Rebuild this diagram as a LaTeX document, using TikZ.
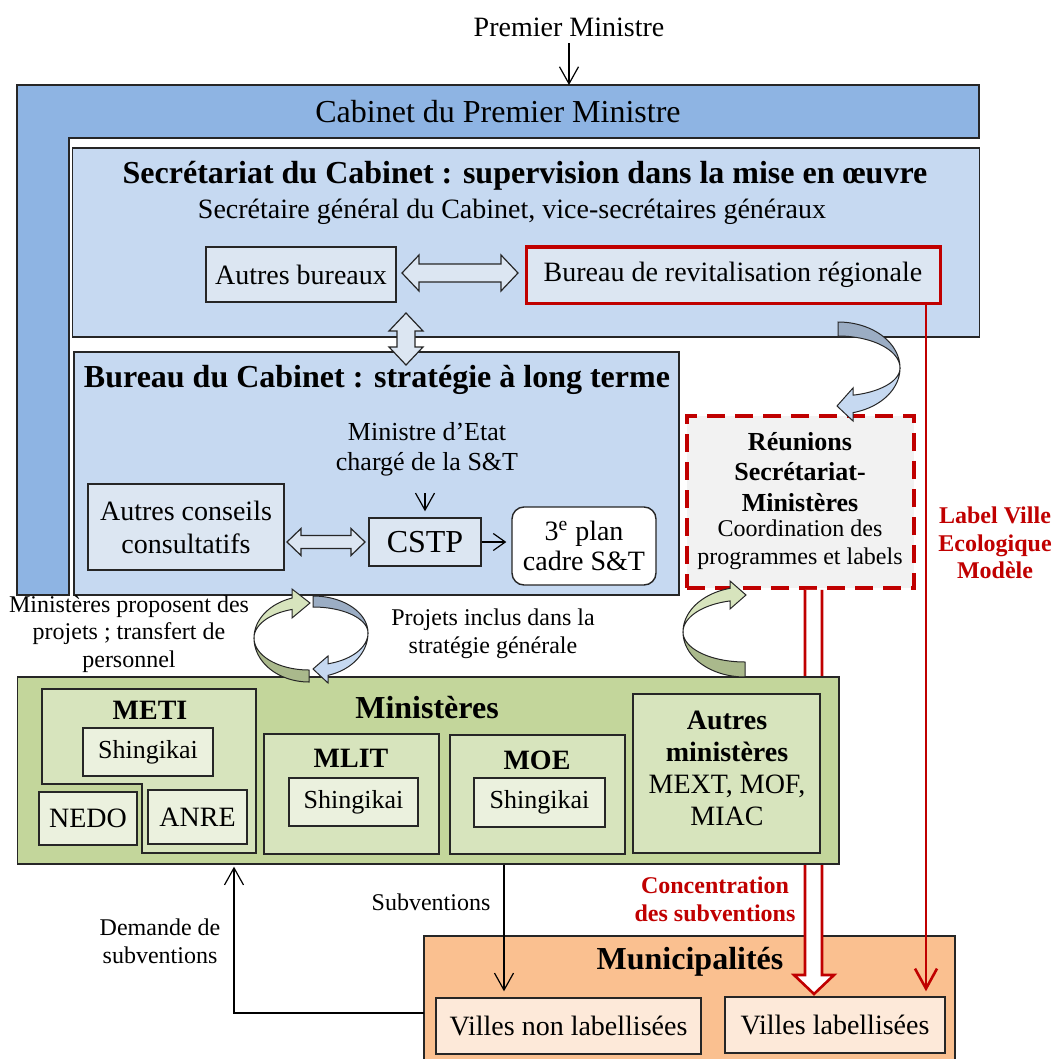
\documentclass[tikz,border=0pt]{standalone}
\usepackage{fontspec}
\setmainfont{Liberation Serif}
\usetikzlibrary{arrows.meta,calc}
\definecolor{cabblue}{HTML}{8EB4E3}
\definecolor{secblue}{HTML}{C6D9F1}
\definecolor{boxblue}{HTML}{DCE6F2}
\definecolor{ribblue}{HTML}{9BADC4}
\definecolor{mingreen}{HTML}{C3D69B}
\definecolor{metigreen}{HTML}{D7E4BD}
\definecolor{shingreen}{HTML}{EBF1DE}
\definecolor{ribgreen}{HTML}{AAB98C}
\definecolor{muniorange}{HTML}{FAC090}
\definecolor{villeorange}{HTML}{FDE9D9}
\definecolor{darkred}{HTML}{C00000}
\definecolor{reungray}{HTML}{F2F2F2}
\definecolor{edgec}{HTML}{262626}
\newcommand{\fszA}{\fontsize{12}{13.8}\selectfont}
\newcommand{\fszB}{\fontsize{13}{15.2}\selectfont}
\newcommand{\fszC}{\fontsize{14}{16}\selectfont}
\newcommand{\fszD}{\fontsize{16}{18}\selectfont}
\tikzset{
  box/.style={draw=edgec, line width=0.7pt, inner sep=0pt, align=center},
  blk/.style={draw=black, line width=0.6pt, -{Straight Barb[length=8.5pt,width=9.5pt]}},
  redarr/.style={draw=darkred, line width=1.3pt, -{Straight Barb[length=10pt,width=11pt]}},
  dblarr/.style={fill=boxblue, draw=edgec, line width=0.6pt},
  ribdarkB/.style={fill=ribblue, draw=edgec, line width=0.5pt},
  ribliteB/.style={fill=secblue, draw=edgec, line width=0.5pt},
  ribdarkG/.style={fill=ribgreen, draw=edgec, line width=0.5pt},
  ribliteG/.style={fill=metigreen, draw=edgec, line width=0.5pt},
  lbl/.style={align=center, font=\fszA},
}
\newcommand{\hdbl}[6]{\filldraw[dblarr] (#1,#3) -- ({#1+#6},{#3-#5}) -- ({#1+#6},{#3-#4}) -- ({#2-#6},{#3-#4}) -- ({#2-#6},{#3-#5}) -- (#2,#3) -- ({#2-#6},{#3+#5}) -- ({#2-#6},{#3+#4}) -- ({#1+#6},{#3+#4}) -- ({#1+#6},{#3+#5}) -- cycle;}
\newcommand{\vdbl}[6]{\filldraw[dblarr] (#3,#1) -- ({#3-#5},{#1+#6}) -- ({#3-#4},{#1+#6}) -- ({#3-#4},{#2-#6}) -- ({#3-#5},{#2-#6}) -- (#3,#2) -- ({#3+#5},{#2-#6}) -- ({#3+#4},{#2-#6}) -- ({#3+#4},{#1+#6}) -- ({#3+#5},{#1+#6}) -- cycle;}
\begin{document}
\begin{tikzpicture}[x=0.5pt,y=-0.5pt]
\useasboundingbox (0,0) rectangle (1051,1059);
\clip (0,0) rectangle (1051,1059);

% Premier Ministre
\node[font=\fszC] (pm) at (569,27) {Premier Ministre};
\coordinate (cabtop) at (569,85);

% Cabinet L-shape
\filldraw[fill=cabblue, draw=edgec, line width=0.7pt] (17,85) -- (979,85) -- (979,138) -- (69,138) -- (69,595) -- (17,595) -- cycle;
\node[font=\fszD] (cab) at (498,112) {Cabinet du Premier Ministre};
\draw[blk] (pm.south) -- (cabtop);

% Secretariat
\node[box, fill=secblue, minimum width=453.5pt, minimum height=94.5pt] (secr) at (526,242.5) {};
\node[font=\bfseries\fszD] (sect) at (525,176) {Secrétariat du Cabinet : supervision dans la mise en œuvre};
\node[font=\fszC] (secs) at (512,212) {Secrétaire général du Cabinet, vice-secrétaires généraux};
\node[box, fill=boxblue, minimum width=95pt, minimum height=27.5pt, font=\fszC] (ab) at (301,274.5) {Autres bureaux};
\node[box, fill=boxblue, draw=darkred, line width=1.5pt, minimum width=207pt, minimum height=28pt, font=\fszC] (brr) at (733,275) {Bureau de revitalisation régionale};
\hdbl{402}{518}{273}{9}{18}{17}

% Bureau du Cabinet
\node[box, fill=secblue, minimum width=302.5pt, minimum height=121.5pt] (bc) at (376.5,473.5) {};
\vdbl{313}{365}{406}{9}{17}{18}
\node[font=\bfseries\fszD] (bct) at (377,380) {Bureau du Cabinet : stratégie à long terme};
\node[align=center, font=\fszB] (mse) at (427,449) {Ministre d’Etat\\chargé de la S\&T};
\node[box, fill=boxblue, minimum width=98pt, minimum height=43pt, font=\fontsize{14}{16.5}\selectfont] (acc) at (186,527) {Autres conseils\\consultatifs};
\node[box, fill=boxblue, minimum width=56pt, minimum height=24pt, font=\fszD] (cstp) at (425,542) {CSTP};
\node[box, fill=white, rounded corners=6pt, minimum width=72pt, minimum height=39pt, font=\fontsize{14}{15}\selectfont] (plan) at (584,546) {3\textsuperscript{e} plan\\cadre S\&T};
\hdbl{287}{365}{542}{6.5}{13.5}{14}
\coordinate (mx) at (425,493);
\draw[blk] (mx) -- ([yshift=3pt]cstp.north);
\draw[draw=black, line width=0.6pt, -{Straight Barb[length=6pt,width=8.5pt]}] (cstp.east) -- ([xshift=-2.5pt]cstp.east -| plan.west);

% Reunions
\node[draw=darkred, line width=1.75pt, dash pattern=on 9pt off 5pt, fill=reungray, minimum width=113.5pt, minimum height=86pt, inner sep=0pt] (reun) at (800.5,502) {};
\node[align=center, font=\bfseries\fszB] (reunt) at (800,472) {Réunions\\Secrétariat-\\Ministères};
\node[align=center, font=\fszA] (reuns) at (800,545) {Coordination des\\programmes et labels};

% curved arrow Secretariat -> Reunions
\filldraw[ribdarkB] plot[domain=270:360,samples=40] ({838+62*cos(\x)},{368+46*sin(\x)}) -- plot[domain=360:270,samples=40] ({838+62*cos(\x)},{368+32*sin(\x)}) -- cycle;
\filldraw[ribliteB] plot[domain=0:76,samples=40] ({838+62*cos(\x)},{368+46*sin(\x)}) -- (853,421) -- (837,406) -- (853,388) -- plot[domain=76:0,samples=40] ({838+62*cos(\x)},{368+28*sin(\x)}) -- cycle;

% Municipalites
\node[box, fill=muniorange, minimum width=265.5pt, minimum height=64pt] (muni) at (689.5,1000) {};
\node[font=\bfseries\fszD] (munit) at (690,962) {Municipalités};
\node[box, fill=villeorange, minimum width=132.5pt, minimum height=28pt, font=\fszC] (vnl) at (568.5,1026) {Villes non labellisées};
\node[box, fill=villeorange, minimum width=110pt, minimum height=28pt, font=\fszC] (vl) at (835,1025) {Villes labellisées};

% hollow double red arrow Reunions -> Villes labellisees
\coordinate (dl) at (805,0);
\coordinate (dr) at (822,0);
\filldraw[fill=white, draw=darkred, line width=1.3pt, line join=miter] (reun.south -| dl) -- (805,975) -- (794,975) -- (814,994) -- (834,975) -- (822,975) -- (reun.south -| dr);

% Ministeres
\node[box, fill=mingreen, minimum width=410.75pt, minimum height=93.5pt] (min) at (428.25,770.5) {};
\node[font=\bfseries\fszD] (mint) at (427,708) {Ministères};
\filldraw[fill=metigreen, draw=edgec, line width=0.7pt] (42,689) -- (256,689) -- (256,853) -- (142,853) -- (142,784) -- (42,784) -- cycle;
\node[font=\bfseries\fszC] (meti) at (150,710) {METI};
\node[box, fill=shingreen, minimum width=65pt, minimum height=24pt, font=\fszB] (shm) at (148,752) {Shingikai};
\node[box, fill=shingreen, minimum width=49pt, minimum height=26.5pt, font=\fszC] (nedo) at (88,818.5) {NEDO};
\node[box, fill=shingreen, minimum width=49.5pt, minimum height=27pt, font=\fszC] (anre) at (197.5,817) {ANRE};
\node[box, fill=metigreen, minimum width=87.5pt, minimum height=60pt] (mlit) at (351.5,794) {};
\node[font=\bfseries\fszC] (mlitt) at (351,758) {MLIT};
\node[box, fill=shingreen, minimum width=64.5pt, minimum height=24pt, font=\fszB] (shl) at (353.5,802) {Shingikai};
\node[box, fill=metigreen, minimum width=87.5pt, minimum height=59.5pt] (moe) at (537.5,794.5) {};
\node[font=\bfseries\fszC] (moet) at (537,760) {MOE};
\node[box, fill=shingreen, minimum width=65.5pt, minimum height=24.5pt, font=\fszB] (sho) at (539.5,802.5) {Shingikai};
\node[box, fill=metigreen, minimum width=93.5pt, minimum height=79.5pt] (am) at (726.5,773.5) {};
\node[align=center, font=\fszC] (amt) at (727,768) {\textbf{Autres}\\\textbf{ministères}\\MEXT, MOF,\\MIAC};

% curved arrows between Bureau du Cabinet and Ministeres
\filldraw[ribdarkG] plot[domain=90:180,samples=40] ({309+55*cos(\x)},{638+44*sin(\x)}) -- plot[domain=180:90,samples=40] ({309+55*cos(\x)},{638+32*sin(\x)}) -- cycle;
\filldraw[ribliteG] plot[domain=180:252,samples=40] ({309+55*cos(\x)},{638+42*sin(\x)}) -- (292,589) -- (310,603) -- (292,618) -- plot[domain=252:180,samples=40] ({309+55*cos(\x)},{638+30*sin(\x)}) -- cycle;
\filldraw[ribdarkB] plot[domain=270:360,samples=40] ({313+55*cos(\x)},{633+37*sin(\x)}) -- plot[domain=360:270,samples=40] ({313+55*cos(\x)},{633+26*sin(\x)}) -- cycle;
\filldraw[ribliteB] plot[domain=0:74,samples=40] ({313+55*cos(\x)},{633+44*sin(\x)}) -- (328,683) -- (313,669) -- (328,656) -- plot[domain=74:0,samples=40] ({313+55*cos(\x)},{633+32*sin(\x)}) -- cycle;
\filldraw[ribdarkG] plot[domain=90:180,samples=40] ({745+62*cos(\x)},{632+45*sin(\x)}) -- plot[domain=180:90,samples=40] ({745+62*cos(\x)},{632+30*sin(\x)}) -- cycle;
\filldraw[ribliteG] plot[domain=180:256,samples=40] ({745+62*cos(\x)},{632+45*sin(\x)}) -- (730,581) -- (746,595) -- (730,609) -- plot[domain=256:180,samples=40] ({745+62*cos(\x)},{632+32*sin(\x)}) -- cycle;

% red label line
\coordinate (lblx) at (926,0);
\draw[redarr, shorten >=2.5pt] (brr.south -| lblx) -- (vl.north -| lblx);

% subventions arrows
\coordinate (subx) at (504,0);
\draw[blk, shorten >=3pt] (min.south -| subx) -- (vnl.north -| subx);
\coordinate (demS) at (424,1013);
\coordinate (demx) at (234,0);
\draw[blk, shorten >=1pt] (demS) -| (min.south -| demx);

% labels
\node[lbl] (mpp) at (129,634) {Ministères proposent des\\projets ; transfert de\\personnel};
\node[lbl] (pid) at (493,634) {Projets inclus dans la\\stratégie générale};
\node[lbl] (sub) at (431,902) {Subventions};
\node[lbl] (dem) at (160,941) {Demande de\\subventions};
\node[align=center, font=\bfseries\fszA, text=darkred] (lblt) at (995,543) {Label Ville\\Ecologique\\Modèle};
\node[align=center, font=\bfseries\fontsize{12}{14}\selectfont, text=darkred] (conc) at (715,899) {Concentration\\des subventions};
\end{tikzpicture}
\end{document}
